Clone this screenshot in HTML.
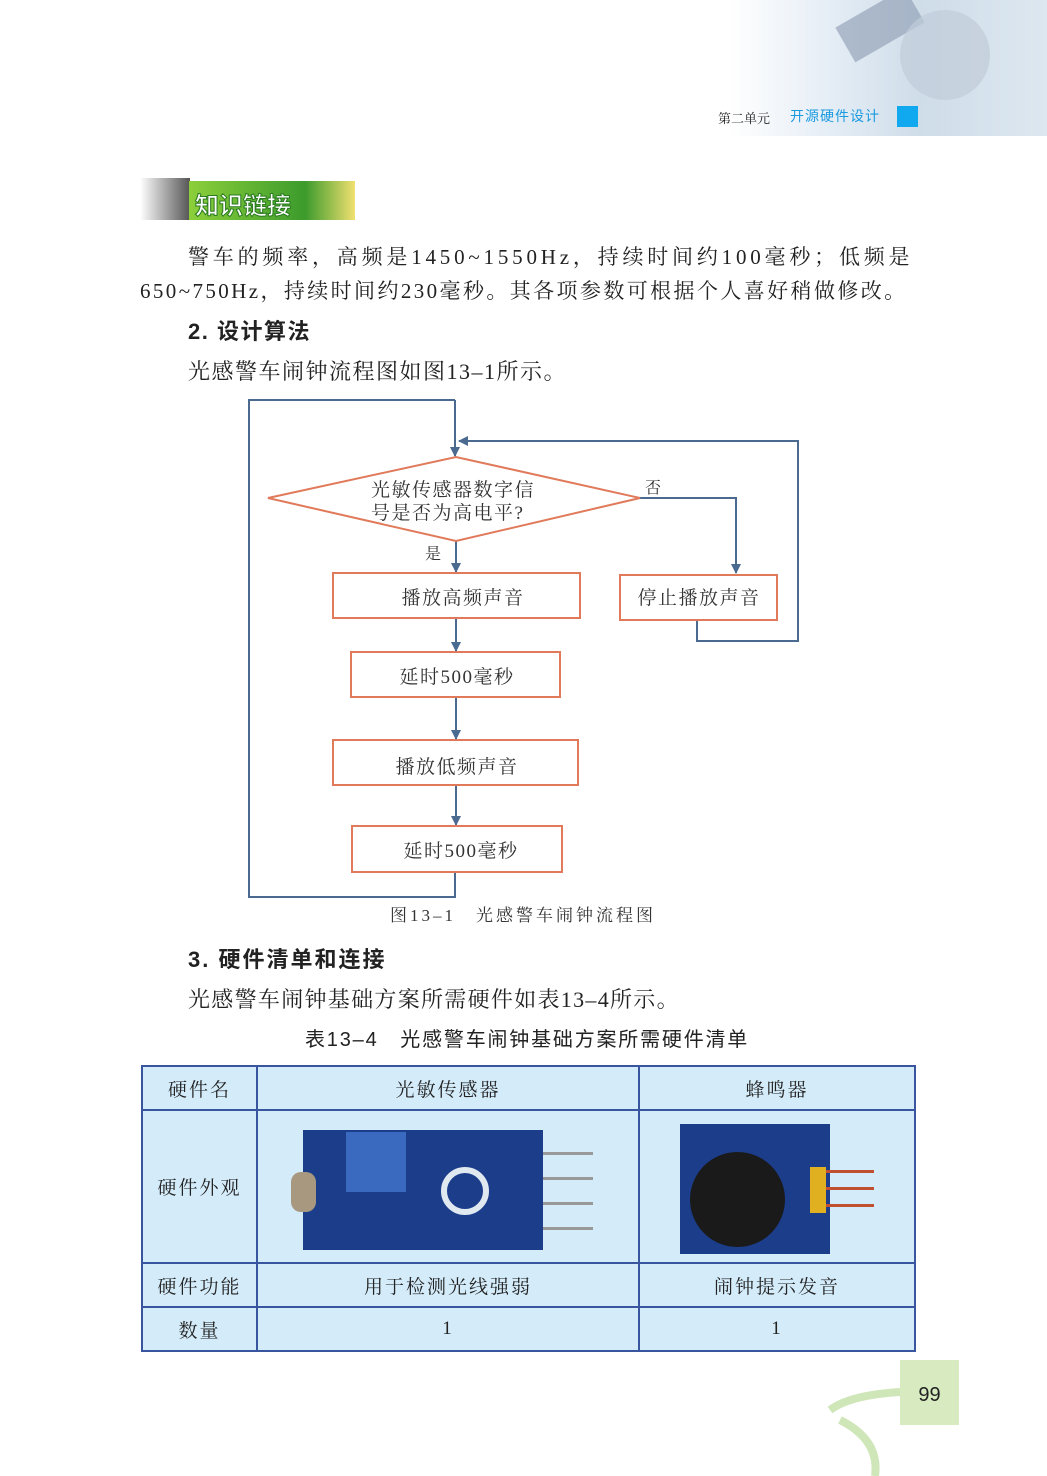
<!DOCTYPE html>
<html><head><meta charset="utf-8"><style>
body{margin:0;width:1047px;height:1476px;position:relative;background:#fff;font-family:"Liberation Serif","Noto Serif CJK SC",serif;color:#222;overflow:hidden}
.a{position:absolute;white-space:nowrap}
.s{font-family:"Liberation Sans","Noto Sans CJK SC",sans-serif}
table{position:absolute;left:141px;top:1065px;width:775px;border-collapse:collapse;background:#d4ecfa}
td{border:2px solid #3a55a0;text-align:center;font-size:19px;letter-spacing:2px;padding:0}
</style></head><body>
<div class="a" style="left:730px;top:0;width:317px;height:136px;background:linear-gradient(90deg,#fff 0%,#e6eef6 30%,#cfdde9 60%,#dde7f0 100%)"></div>
<div class="a" style="left:840px;top:5px;width:80px;height:40px;background:#8a9ab0;transform:rotate(-30deg);opacity:.6"></div>
<div class="a" style="left:900px;top:10px;width:90px;height:90px;border-radius:50%;background:#c0ccd8;opacity:.7"></div>
<div class="a" style="left:718px;top:108px;font-size:13px">第二单元</div>
<div class="a s" style="left:790px;top:106px;font-size:14px;color:#1a9ae0;letter-spacing:1px">开源硬件设计</div>
<div class="a" style="left:897px;top:106px;width:21px;height:21px;background:#10a8ee"></div>

<div class="a" style="left:140px;top:178px;width:50px;height:42px;background:linear-gradient(90deg,#fff,#555)"></div>
<div class="a" style="left:189px;top:181px;width:166px;height:39px;background:linear-gradient(90deg,#8ccf3a,#3c9b2c 70%,#f0e070)"></div>
<div class="a s" style="left:195px;top:186px;font-size:24px;font-weight:bold;color:#fff;-webkit-text-stroke:1px #2a7a20">知识链接</div>

<div class="a" style="left:188px;top:241px;font-size:21px;letter-spacing:3.8px">警车的频率，高频是1450~1550Hz，持续时间约100毫秒；低频是</div>
<div class="a" style="left:140px;top:275px;font-size:21px;letter-spacing:2.4px">650~750Hz，持续时间约230毫秒。其各项参数可根据个人喜好稍做修改。</div>
<div class="a s" style="left:188px;top:314px;font-size:22px;font-weight:bold;letter-spacing:1.5px">2. 设计算法</div>
<div class="a" style="left:188px;top:355px;font-size:22px;letter-spacing:1.5px">光感警车闹钟流程图如图13–1所示。</div>

<svg class="a" style="left:0;top:0" width="1047" height="1476">
<defs><marker id="m" markerWidth="10" markerHeight="10" refX="9" refY="5" orient="auto" markerUnits="userSpaceOnUse"><path d="M0,0 L10,5 L0,10z" fill="#4a6a90"/></marker></defs>
<g fill="none" stroke="#4a6a90" stroke-width="2">
<path d="M455,400 L249,400 L249,897 L455,897 L455,872"/>
<path d="M455,400 L455,456" marker-end="url(#m)"/>
<path d="M697,621 L697,641 L798,641 L798,441 L459,441" marker-end="url(#m)"/>
<path d="M640,498 L736,498 L736,573" marker-end="url(#m)"/>
<path d="M456,541 L456,572" marker-end="url(#m)"/>
<path d="M456,618 L456,651" marker-end="url(#m)"/>
<path d="M456,697 L456,739" marker-end="url(#m)"/>
<path d="M456,785 L456,825" marker-end="url(#m)"/>
</g>
<g fill="#fff" stroke="#e07a5a" stroke-width="2">
<path d="M268,498 L456,457 L640,498 L456,541z"/>
<rect x="333" y="573" width="247" height="45"/>
<rect x="620" y="575" width="157" height="45"/>
<rect x="351" y="652" width="209" height="45"/>
<rect x="333" y="740" width="245" height="45"/>
<rect x="352" y="826" width="210" height="46"/>
</g>
<g font-size="19" fill="#333" font-family="Liberation Serif,Noto Serif CJK SC,serif" letter-spacing="1.5">
<text x="371" y="496">光敏传感器数字信</text>
<text x="371" y="519">号是否为高电平?</text>
<text x="645" y="493" font-size="16">否</text>
<text x="425" y="559" font-size="16">是</text>
<text x="463" y="604" text-anchor="middle">播放高频声音</text>
<text x="699" y="604" text-anchor="middle">停止播放声音</text>
<text x="457" y="683" text-anchor="middle">延时500毫秒</text>
<text x="457" y="773" text-anchor="middle">播放低频声音</text>
<text x="461" y="857" text-anchor="middle">延时500毫秒</text>
<text x="390" y="921" font-size="17" letter-spacing="3">图13–1　光感警车闹钟流程图</text>
</g>
<path d="M830,1410 Q850,1395 900,1392 M840,1420 Q880,1440 875,1476" stroke="#cfe6b8" stroke-width="8" fill="none"/>
</svg>

<div class="a s" style="left:188px;top:942px;font-size:22px;font-weight:bold;letter-spacing:2px">3. 硬件清单和连接</div>
<div class="a" style="left:188px;top:983px;font-size:22px;letter-spacing:1.3px">光感警车闹钟基础方案所需硬件如表13–4所示。</div>
<div class="a s" style="left:305px;top:1023px;font-size:20px;letter-spacing:1.8px">表13–4　光感警车闹钟基础方案所需硬件清单</div>

<table>
<tr style="height:44px"><td style="width:113px">硬件名</td><td style="width:380px">光敏传感器</td><td>蜂鸣器</td></tr>
<tr style="height:153px"><td>硬件外观</td>
<td><div style="margin:0 auto;width:315px;height:130px;position:relative">
<div style="position:absolute;left:12px;top:8px;width:240px;height:120px;background:#1c3d8a"></div>
<div style="position:absolute;left:55px;top:10px;width:60px;height:60px;background:#3a6ac0"></div>
<div style="position:absolute;left:150px;top:45px;width:36px;height:36px;border-radius:50%;border:6px solid #e0e8f0;background:#1c3d8a"></div>
<div style="position:absolute;left:0;top:50px;width:25px;height:40px;border-radius:10px;background:#a89880"></div>
<div style="position:absolute;left:252px;top:30px;width:50px;height:3px;background:#999;box-shadow:0 25px #999,0 50px #999,0 75px #999"></div>
</div></td>
<td><div style="margin:0 auto;width:195px;height:130px;position:relative">
<div style="position:absolute;left:0;top:2px;width:150px;height:130px;background:#1c3d8a"></div>
<div style="position:absolute;left:10px;top:30px;width:95px;height:95px;border-radius:50%;background:#1a1a1a"></div>
<div style="position:absolute;left:130px;top:45px;width:16px;height:46px;background:#e0b020"></div>
<div style="position:absolute;left:146px;top:48px;width:48px;height:3px;background:#c05030;box-shadow:0 17px #c05030,0 34px #c05030"></div>
</div></td></tr>
<tr style="height:44px"><td>硬件功能</td><td>用于检测光线强弱</td><td>闹钟提示发音</td></tr>
<tr style="height:44px"><td>数量</td><td>1</td><td>1</td></tr>
</table>

<div class="a s" style="left:900px;top:1360px;width:59px;height:65px;background:#d8ebc0;font-size:20px;line-height:70px;text-align:center">99</div>
</body></html>
